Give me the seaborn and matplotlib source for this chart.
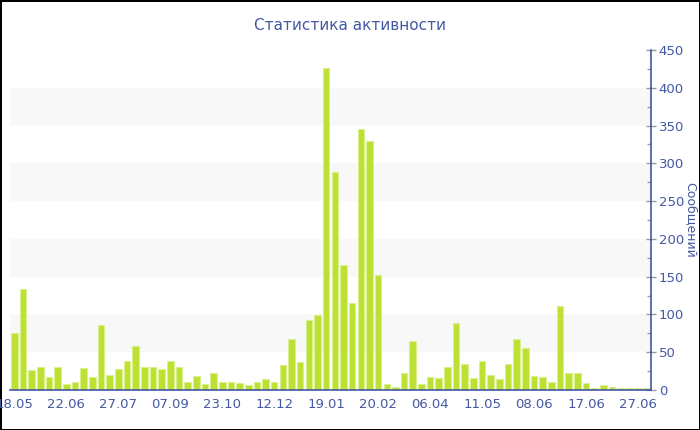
import matplotlib
matplotlib.use("Agg")
import matplotlib.pyplot as plt
from matplotlib.ticker import MultipleLocator
import numpy as np
import pandas as pd
import seaborn as sns

# ── Data ─────────────────────────────────────────────────────
MESSAGES = [
    75, 134, 26, 30, 17, 30, 8, 10, 29, 17,
    86, 20, 28, 38, 58, 31, 31, 28, 38, 30,
    11, 19, 8, 22, 10, 11, 9, 7, 11, 15,
    10, 33, 68, 37, 93, 99, 426, 289, 166, 115,
    345, 330, 152, 8, 4, 22, 65, 8, 17, 16,
    31, 89, 35, 16, 38, 20, 15, 35, 68, 56,
    18, 17, 10, 111, 23, 23, 9, 3, 6, 4,
    3, 3, 3, 3,
]
TICK_LABELS = ["18.05", "22.06", "27.07", "07.09", "23.10", "12.12", "19.01",
               "20.02", "06.04", "11.05", "08.06", "17.06", "27.06"]
TICK_STEP = 6
BANDS = [(50, 100), (150, 200), (250, 300), (350, 400)]

TITLE = "Статистика активности"
YLABEL = "Сообщений"

BLUE = "#4358a3"
BAR = "#bde032"
BAR_EDGE = "#d9f08e"

sns.set_style("white")
plt.rcParams["font.family"] = ["DejaVu Sans"]

df = pd.DataFrame({"idx": np.arange(len(MESSAGES)), "count": MESSAGES})

fig = plt.figure(figsize=(7, 4.3), dpi=100)
fig.patch.set_edgecolor("black")
fig.patch.set_linewidth(2)
ax = fig.add_axes([10 / 700, 40 / 430, 641 / 700, 340 / 430])

for lo, hi in BANDS:
    ax.axhspan(lo, hi, color="#f8f8f8", zorder=0, lw=0)

sns.barplot(data=df, x="idx", y="count", color=BAR, width=0.76,
            edgecolor=BAR_EDGE, linewidth=0.8, saturation=1, ax=ax, zorder=2)

ax.set_xlim(-0.5, len(MESSAGES) - 0.5)
ax.set_ylim(0, 450)

ticks = np.arange(0, len(MESSAGES), TICK_STEP)[: len(TICK_LABELS)]
ax.set_xticks(ticks)
ax.set_xticklabels(TICK_LABELS)
ax.tick_params(axis="x", colors="#999999", length=4, width=1, labelsize=9.5,
               labelcolor=BLUE, pad=2, direction="out")

ax.yaxis.tick_right()
ax.yaxis.set_major_locator(MultipleLocator(50))
ax.yaxis.set_minor_locator(MultipleLocator(25))
ax.tick_params(axis="y", which="major", direction="inout", length=7, width=1,
               colors="#999999", labelcolor=BLUE, labelsize=9.5, pad=2)
ax.tick_params(axis="y", which="minor", direction="in", length=3, width=1,
               colors="#999999")
ax.set_ylabel("")
ax.set_xlabel("")

for side in ["top", "left"]:
    ax.spines[side].set_visible(False)
for side in ["bottom", "right"]:
    ax.spines[side].set_color(BLUE)
    ax.spines[side].set_linewidth(1.2)

fig.text(0.5, 1 - 25 / 430, TITLE, ha="center", va="center",
         color=BLUE, fontsize=11)
fig.text(690 / 700, 1 - 220 / 430, YLABEL, ha="center", va="center",
         rotation=270, color=BLUE, fontsize=9)

fig.savefig("out.png", dpi=100)
